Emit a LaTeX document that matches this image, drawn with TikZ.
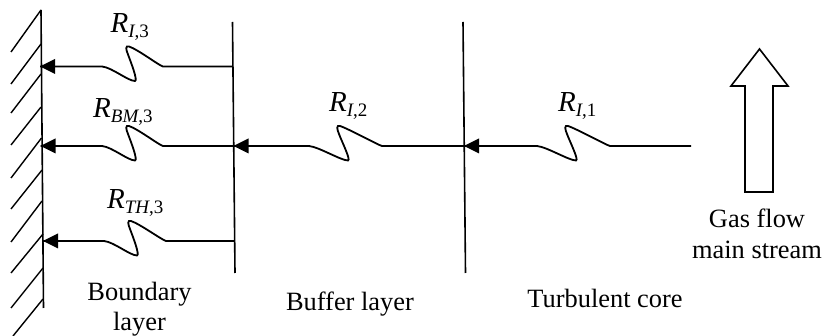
\documentclass[tikz,border=0pt]{standalone}
\usepackage{fontspec}
\setmainfont{Liberation Serif}
\newcommand{\Rlab}[2]{\fontsize{29}{29}\selectfont\textit{R}\raisebox{-5pt}{\fontsize{19}{19}\selectfont\textit{#1},#2}}
\tikzset{
  wire/.style={line width=1.8pt,black},
  bar/.style={line width=1.6pt,black},
  hatch/.style={line width=1.4pt,black},
  flowarrow/.style={line width=1.6pt,black,line join=miter},
  head/.style={fill=black,draw=none},
  txt/.style={font=\fontsize{26.4}{30}\selectfont,inner sep=0pt,anchor=base},
  rlab/.style={inner sep=0pt,anchor=base west}
}
\newcommand{\zig}[7]{% right end, tip, xs, xp, xv, xe, y
  \draw[wire] (#1) -- (#6,#7) .. controls (#6-4,#7-1) and (#4+11,#7-17) .. (#4+2,#7-20)
    .. controls (#4-2,#7-21) and (#4-1,#7-17) .. (#4+1,#7-12)
    .. controls (#4+4,#7-4) and (#5+2,#7+14) .. (#5-1,#7+14.5)
    .. controls (#5-8,#7+14.5) and (#3+10,#7+1) .. (#3,#7) -- (#2);
  \fill[head] (#2) -- ++(15,-7.5) -- ++(0,15) -- cycle;
}
\begin{document}
\begin{tikzpicture}[x=1pt,y=-1pt]
\useasboundingbox (0,0) rectangle (822,336);
% wall
\coordinate (wt) at (41,10); \coordinate (wb) at (43.5,308);
\draw[bar] (wt) -- (wb);
\foreach \xa/\ya/\xb/\yb in {41/10/11/52,41/44/11/84,41/74/11/113,41/107/11/145,41.5/138/11/178,42/170/11/209,42/201/11/242,43/234/11/273,43/268/11/308,43/299/13/336}
  \draw[hatch] (\xa,\ya) -- (\xb,\yb);
% layer lines
\coordinate (a1) at (232.5,22); \coordinate (a2) at (235,273);
\coordinate (b1) at (463,22); \coordinate (b2) at (465.5,273);
\draw[bar] (a1) -- (a2);
\draw[bar] (b1) -- (b2);
% connectors
\coordinate (r1) at (232.5,66.5); \coordinate (t1) at (40,66.5);
\coordinate (r2) at (233.5,146); \coordinate (t2) at (40.5,146);
\coordinate (r3) at (234.5,241); \coordinate (t3) at (43,241);
\coordinate (r4) at (464,146); \coordinate (t4) at (233.5,146);
\coordinate (r5) at (691,146); \coordinate (t5) at (464,146);
\zig{r1}{t1}{102}{127}{136}{163}{66.5}
\zig{r2}{t2}{102}{127}{136}{163}{146}
\zig{r3}{t3}{104}{129}{138}{166}{241}
\zig{r4}{t4}{309}{338}{349}{382}{146}
\zig{r5}{t5}{537}{566}{577}{610}{146}
% labels
\node[rlab] (l1) at (110.5,33) {\Rlab{I}{3}};
\node[rlab] (l2) at (93,118) {\Rlab{BM}{3}};
\node[rlab] (l3) at (107,209) {\Rlab{TH}{3}};
\node[rlab] (l4) at (329,112) {\Rlab{I}{2}};
\node[rlab] (l5) at (558,112) {\Rlab{I}{1}};
% flow arrow
\draw[flowarrow] (759.5,49) -- (788,86) -- (773,86) -- (773,192) -- (745,192) -- (745,86) -- (731,86) -- cycle;
% text
\node[txt] (n1) at (139.5,301) {Boundary};
\node[txt] (n1b) at (139.5,331) {layer};
\node[txt] (n2) at (350,311) {Buffer layer};
\node[txt] (n3) at (605,308) {Turbulent core};
\node[txt] (n4) at (757,228) {Gas flow};
\node[txt] (n4b) at (757,259) {main stream};
\end{tikzpicture}
\end{document}
